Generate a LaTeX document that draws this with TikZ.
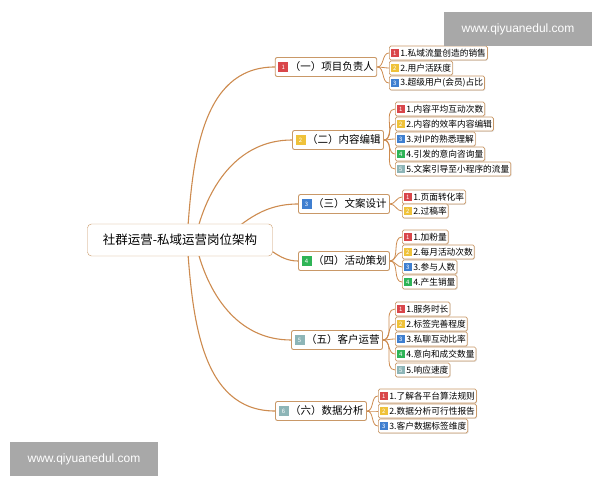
\documentclass[tikz,border=0pt]{standalone}
\usepackage{xcolor}
\usepackage{fontspec}
\setmainfont{Noto Sans CJK SC}
\newfontfamily\wmfont{Liberation Sans}
\usepackage{tikz}
\usetikzlibrary{backgrounds,shadows}

\definecolor{linebrown}{HTML}{CD8B4F}
\definecolor{boxbrown}{HTML}{C99867}
\definecolor{bred}{HTML}{D9464A}
\definecolor{byellow}{HTML}{EFC23A}
\definecolor{bblue}{HTML}{3F7FD0}
\definecolor{bgreen}{HTML}{2FB457}
\definecolor{bteal}{HTML}{8DB5B7}
\definecolor{wmgray}{HTML}{A8A8A8}

% coloured number square: colour, size, number
\newcommand{\badge}[3]{{\setlength{\fboxsep}{0pt}\colorbox{#1}{\makebox[#2][c]{\rule[\dimexpr-#2/8\relax]{0pt}{#2}\raisebox{\dimexpr#2*3/8-2.2pt\relax}{\color{white}\fontsize{6}{6}\selectfont #3}}}}\hspace{1.5pt}}

\begin{document}
\begin{tikzpicture}[
  x=1pt, y=1pt,
  root/.style={draw=boxbrown, fill=white, rounded corners=4pt, minimum width=185pt, minimum height=32pt, font=\fontsize{12.5}{13}\selectfont},
  branch/.style={draw=boxbrown, line width=0.9pt, fill=white, rounded corners=2pt, minimum height=19pt, inner xsep=3pt, font=\fontsize{10.5}{11}\selectfont},
  leaf/.style={draw=boxbrown, line width=0.7pt, fill=white, rounded corners=1.5pt, minimum height=14pt, inner xsep=1.5pt, inner ysep=1pt, anchor=west, font=\fontsize{8.7}{9}\selectfont, drop shadow={opacity=0.2, shadow xshift=0.8pt, shadow yshift=-0.8pt}},
  link/.style={draw=linebrown, line width=1.1pt},
  twig/.style={draw=linebrown, line width=0.8pt},
  wm/.style={fill=wmgray, text=white, minimum width=148pt, minimum height=34pt, font=\wmfont\fontsize{12}{12}\selectfont}
]
  \useasboundingbox (0,0) rectangle (600,480);

  \node[root] (root) at (180,240) {社群运营-私域运营岗位架构};

  \node[branch] (b1) at (326,413) {\badge{bred}{10pt}{1}（一）项目负责人};
  \node[branch] (b2) at (338,340) {\badge{byellow}{10pt}{2}（二）内容编辑};
  \node[branch] (b3) at (344,276) {\badge{bblue}{10pt}{3}（三）文案设计};
  \node[branch] (b4) at (344,219) {\badge{bgreen}{10pt}{4}（四）活动策划};
  \node[branch] (b5) at (337,140) {\badge{bteal}{10pt}{5}（五）客户运营};
  \node[branch] (b6) at (321,69) {\badge{bteal}{10pt}{6}（六）数据分析};

  \node[leaf] (l11) at (389,427) {\badge{bred}{8pt}{1}1.私域流量创造的销售};
  \node[leaf] (l12) at (389,412) {\badge{byellow}{8pt}{2}2.用户活跃度};
  \node[leaf] (l13) at (389,397) {\badge{bblue}{8pt}{3}3.超级用户(会员)占比};

  \node[leaf] (l21) at (395,371) {\badge{bred}{8pt}{1}1.内容平均互动次数};
  \node[leaf] (l22) at (395,356) {\badge{byellow}{8pt}{2}2.内容的效率内容编辑};
  \node[leaf] (l23) at (395,341) {\badge{bblue}{8pt}{3}3.对IP的熟悉理解};
  \node[leaf] (l24) at (395,326) {\badge{bgreen}{8pt}{4}4.引发的意向咨询量};
  \node[leaf] (l25) at (395,311) {\badge{bteal}{8pt}{5}5.文案引导至小程序的流量};

  \node[leaf] (l31) at (402,283) {\badge{bred}{8pt}{1}1.页面转化率};
  \node[leaf] (l32) at (402,269) {\badge{byellow}{8pt}{2}2.过稿率};

  \node[leaf] (l41) at (402,243) {\badge{bred}{8pt}{1}1.加粉量};
  \node[leaf] (l42) at (402,228) {\badge{byellow}{8pt}{2}2.每月活动次数};
  \node[leaf] (l43) at (402,213) {\badge{bblue}{8pt}{3}3.参与人数};
  \node[leaf] (l44) at (402,198) {\badge{bgreen}{8pt}{4}4.产生销量};

  \node[leaf] (l51) at (395,171) {\badge{bred}{8pt}{1}1.服务时长};
  \node[leaf] (l52) at (395,156) {\badge{byellow}{8pt}{2}2.标签完善程度};
  \node[leaf] (l53) at (395,141) {\badge{bblue}{8pt}{3}3.私聊互动比率};
  \node[leaf] (l54) at (395,126) {\badge{bgreen}{8pt}{4}4.意向和成交数量};
  \node[leaf] (l55) at (395,110) {\badge{bteal}{8pt}{5}5.响应速度};

  \node[leaf] (l61) at (378,84) {\badge{bred}{8pt}{1}1.了解各平台算法规则};
  \node[leaf] (l62) at (378,69) {\badge{byellow}{8pt}{2}2.数据分析可行性报告};
  \node[leaf] (l63) at (378,54) {\badge{bblue}{8pt}{3}3.客户数据标签维度};

  \node[wm] (wm1) at (518,451) {www.qiyuanedul.com};
  \node[wm] (wm2) at (84,21) {www.qiyuanedul.com};

  \begin{scope}[on background layer]
    \draw[link] ([xshift=7pt]root.center) to[out=86, in=180] (b1.west);
    \draw[link] ([xshift=15pt]root.center) to[out=78, in=180] (b2.west);
    \draw[link] ([xshift=42pt]root.center) to[out=40, in=180] (b3.west);
    \draw[link] ([xshift=70pt]root.center) to[out=-15, in=180] (b4.west);
    \draw[link] ([xshift=15pt]root.center) to[out=-78, in=180] (b5.west);
    \draw[link] ([xshift=7pt]root.center) to[out=-86, in=180] (b6.west);

    \foreach \l in {l11,l12,l13} \draw[twig] (b1.east) to[out=0, in=180] (\l.west);
    \foreach \l in {l21,l22,l23,l24,l25} \draw[twig] (b2.east) to[out=0, in=180] (\l.west);
    \foreach \l in {l31,l32} \draw[twig] (b3.east) to[out=0, in=180] (\l.west);
    \foreach \l in {l41,l42,l43,l44} \draw[twig] (b4.east) to[out=0, in=180] (\l.west);
    \foreach \l in {l51,l52,l53,l54,l55} \draw[twig] (b5.east) to[out=0, in=180] (\l.west);
    \foreach \l in {l61,l62,l63} \draw[twig] (b6.east) to[out=0, in=180] (\l.west);
  \end{scope}
\end{tikzpicture}
\end{document}
